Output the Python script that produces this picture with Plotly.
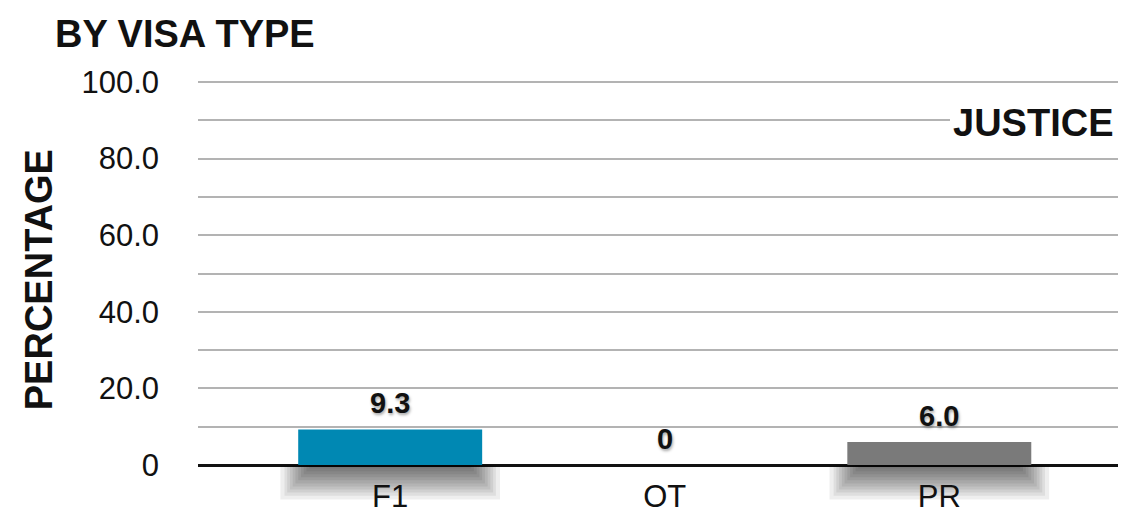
import plotly.graph_objects as go

categories = ["F1", "OT", "PR"]
values = [9.3, 0, 6.0]
bar_colors = ["#0088b3", "#7a7a7a", "#7a7a7a"]
y_ticks = [0, 10, 20, 30, 40, 50, 60, 70, 80, 90, 100]
y_labels = ["0", "", "20.0", "", "40.0", "", "60.0", "", "80.0", "", "100.0"]

FONT = "Liberation Sans, Arial, Helvetica, sans-serif"
labels = [f"{v:.1f}" if v else "0" for v in values]

fig = go.Figure()

# blurred drop shadow under each bar: stacked translucent bars below zero
shadow_layers = [(0.80, 9.0), (0.77, 8.0), (0.75, 7.2), (0.73, 6.4),
                 (0.71, 5.6), (0.69, 4.8), (0.67, 4.0), (0.65, 3.2),
                 (0.63, 2.4), (0.61, 1.6), (0.59, 0.9)]
for w, d in shadow_layers:
    fig.add_trace(go.Bar(
        x=categories, y=[-d if v > 0 else 0 for v in values],
        width=w, marker_color="rgba(0,0,0,0.065)", marker_line_width=0,
        hoverinfo="skip", showlegend=False))

fig.add_trace(go.Bar(
    x=categories, y=values, width=0.67,
    marker_color=bar_colors, marker_line_width=0,
    hoverinfo="skip", showlegend=False))

for c, v, t in zip(categories, values, labels):
    fig.add_annotation(
        x=c, y=v, text=t, showarrow=False, yanchor="bottom", yshift=8,
        font=dict(family=FONT, size=29, color="#111",
                  weight="bold", shadow="1px 2px 3px rgba(0,0,0,0.35)"))

# the page body adds 8px around the figure, so the figure is 8px smaller
fig.update_layout(
    width=1118, height=505, barmode="overlay",
    paper_bgcolor="white", plot_bgcolor="white",
    margin=dict(l=190, r=0, t=70, b=0),
    font=dict(family=FONT, size=31, color="#111"),
    title=dict(text="<b>BY VISA TYPE</b>", xref="container", yref="container",
               x=0.042, y=0.95, xanchor="left", yanchor="middle",
               font=dict(family=FONT, size=38, color="#111")),
    xaxis=dict(range=[-0.7, 2.68], anchor="free", position=12.53 / 113.57,
               showgrid=False, zeroline=False, showline=False,
               ticks="", ticklabelstandoff=10, fixedrange=True),
    yaxis=dict(range=[-12.53, 101.04], tickvals=y_ticks, ticktext=y_labels,
               showgrid=True, gridcolor="#b3b3b3", gridwidth=2,
               zeroline=True, zerolinecolor="#111", zerolinewidth=2.5,
               ticks="", ticklabelstandoff=38, fixedrange=True),
)

fig.add_annotation(
    text="<b>PERCENTAGE</b>", xref="paper", yref="paper",
    x=-0.172, y=0.536, xanchor="center", yanchor="middle",
    textangle=-90, showarrow=False,
    font=dict(family=FONT, size=38, color="#111"))

# white patch behind the JUSTICE label hides the 90 gridline there
fig.add_shape(type="rect", xref="paper", yref="y", layer="above",
              x0=(950 - 198) / 928, x1=1.0, y0=86, y1=94,
              fillcolor="white", line_width=0)

fig.add_annotation(
    text="<b>JUSTICE</b>", xref="paper", yref="y",
    x=1.0, y=89.3, xanchor="right", yanchor="middle", showarrow=False,
    xshift=-11, font=dict(family=FONT, size=38, color="#111"))

fig.write_html("out.html")
